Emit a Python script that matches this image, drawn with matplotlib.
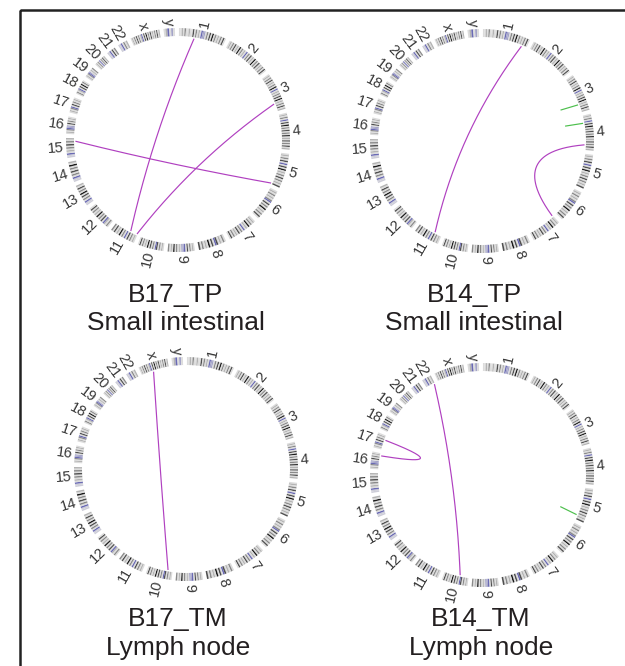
import numpy as np
import matplotlib
matplotlib.use("Agg")
import matplotlib.pyplot as plt
import matplotlib.font_manager as fm
from matplotlib.patches import Wedge, Rectangle

# --- data -------------------------------------------------------------------
CHROMS = ["1", "2", "3", "4", "5", "6", "7", "8", "9", "10", "11", "12",
          "13", "14", "15", "16", "17", "18", "19", "20", "21", "22", "X", "Y"]
CHROM_MB = [249, 243, 198, 191, 181, 171, 159, 146, 141, 136, 135, 134,
            115, 107, 103, 90, 81, 78, 59, 63, 48, 51, 155, 59]

# coarse G-band patterns, p-arm -> q-arm
# 0 gneg, 1 gpos25, 2 gpos50, 3 gpos75, 4 gpos100, c acen, v gvar, s stalk
BAND_PATTERNS = [
    "0010200100302010cvv020304020102030",
    "010203010402010c0203010402030102030",
    "0102030102040c0102030401020301",
    "01020c0304020302040103020301",
    "0102030c0304010203020103",
    "01020102c0302040102030",
    "010204010c02030102030",
    "020103c0304010203",
    "0102030cvv0102040102",
    "010203c0203040102030",
    "0102030c0204010302",
    "0201c0302040102030",
    "ssc020304020301",
    "ssc0203020401",
    "ssc0102030201",
    "0102cvv0302010",
    "0102c0302010",
    "0201c0304020",
    "0102cv0102",
    "01020c020301",
    "ssc0302",
    "ssc0201",
    "0102030201c0304020301020301",
    "01c0v0",
]

SAMPLES = ["B17_TP", "B14_TP", "B17_TM", "B14_TM"]
TISSUES = ["Small intestinal", "Small intestinal", "Lymph node", "Lymph node"]

# translocation links: (chrom A, Mb, chrom B, Mb)
B17_TP_LINKS = [("1", 84, "11", 43), ("3", 156, "11", 3), ("15", 85, "5", 178)]
B14_TP_LINKS = [("1", 220, "11", 41), ("4", 163, "7", 3)]
B17_TM_LINKS = [("X", 66, "10", 27)]
B14_TM_LINKS = [("22", 46, "10", 49), ("17", 55, "16", 76)]

# short intra-chromosomal marks: (chrom, outer Mb, inner Mb)
B17_TP_GREEN = []
B14_TP_GREEN = [("3", 154, 146), ("4", 42, 40)]
B17_TM_GREEN = []
B14_TM_GREEN = [("5", 156, 149)]

# --- style ------------------------------------------------------------------
names = {f.name for f in fm.fontManager.ttflist}
LABEL_FONT = "Liberation Sans Narrow" if "Liberation Sans Narrow" in names else "Liberation Sans"
TITLE_FONT = "Liberation Sans"

BAND_COLORS = {
    "0": "#dcdcdc", "1": "#b4b4b4", "2": "#8a8a8a", "3": "#505050",
    "4": "#1a1a1a", "c": "#6a6ab4", "v": "#a4a4c8", "s": "#cdcdd8",
}
LINK_COLOR = "#b040c0"
GREEN_COLOR = "#4cbf4c"
TEXT_COLOR = "#231f20"

GAP = 2.1
THETA0 = 0.5
SCALE = (360 - len(CHROMS) * GAP) / sum(CHROM_MB)
CUM = np.concatenate([[0], np.cumsum(CHROM_MB)[:-1]])
START = {c: THETA0 + i * GAP + SCALE * CUM[i] for i, c in enumerate(CHROMS)}

R_OUT, R_IN, R_LINK, R_LABEL = 112, 104, 102, 115
BEZIER_R = 26  # control point distance from centre, along the bisector

# panel layout (circle centre, caption centre x, caption baselines)
CENTERS = [(178, 140), (482, 141), (186, 469), (482, 475)]
CAPTION_X = [176, 474, 178, 481]
CAPTION_Y = [(302, 330), (302, 330), (626, 655), (626, 655)]
ALL_LINKS = [B17_TP_LINKS, B14_TP_LINKS, B17_TM_LINKS, B14_TM_LINKS]
ALL_GREEN = [B17_TP_GREEN, B14_TP_GREEN, B17_TM_GREEN, B14_TM_GREEN]


def angle(chrom, mb):
    return START[chrom] + SCALE * mb


def to_xy(cx, cy, theta, r):
    t = np.radians(theta)
    return cx + r * np.sin(t), cy - r * np.cos(t)


def draw_circos(ax, cx, cy, links, greens):
    # ideogram
    for chrom, length, pattern in zip(CHROMS, CHROM_MB, BAND_PATTERNS):
        step = length / len(pattern)
        for k, code in enumerate(pattern):
            t1 = angle(chrom, k * step)
            t2 = angle(chrom, (k + 1) * step)
            ax.add_patch(Wedge((cx, cy), R_OUT, t1 - 90, t2 - 90,
                               width=R_OUT - R_IN, facecolor=BAND_COLORS[code],
                               edgecolor="none"))
        mid = angle(chrom, length / 2)
        x, y = to_xy(cx, cy, mid, R_LABEL)
        if mid < 180:
            rot, ha = 90 - mid, "left"
        else:
            rot, ha = 270 - mid, "right"
        ax.text(x, y, chrom if chrom.isdigit() else chrom.lower(),
                rotation=rot, rotation_mode="anchor", ha=ha, va="center",
                fontsize=10.5, family=LABEL_FONT, color="#383838")

    # links: quadratic bezier, control point pulled towards the centre
    t = np.linspace(0, 1, 200)[:, None]
    for ca, pa, cb, pb in links:
        p0 = np.array(to_xy(0, 0, angle(ca, pa), R_LINK))
        p2 = np.array(to_xy(0, 0, angle(cb, pb), R_LINK))
        bis = p0 + p2
        n = np.hypot(*bis)
        ctrl = bis / n * BEZIER_R if n > 1e-6 else np.zeros(2)
        curve = (1 - t) ** 2 * p0 + 2 * t * (1 - t) * ctrl + t ** 2 * p2
        ax.plot(curve[:, 0] + cx, curve[:, 1] + cy, color=LINK_COLOR, lw=0.85)

    for chrom, p_out, p_in in greens:
        xa, ya = to_xy(cx, cy, angle(chrom, p_out), R_LINK)
        xb, yb = to_xy(cx, cy, angle(chrom, p_in), 85)
        ax.plot([xa, xb], [ya, yb], color=GREEN_COLOR, lw=0.85)


fig = plt.figure(figsize=(6.25, 6.66), dpi=100)
ax = fig.add_axes([0, 0, 1, 1])
ax.set_xlim(0, 625)
ax.set_ylim(666, 0)
ax.axis("off")

ax.add_patch(Rectangle((20, 10), 700, 700, fill=False, lw=1.8, edgecolor="#222222"))

for i in range(4):
    cx, cy = CENTERS[i]
    draw_circos(ax, cx, cy, ALL_LINKS[i], ALL_GREEN[i])
    y1, y2 = CAPTION_Y[i]
    ax.text(CAPTION_X[i], y1, SAMPLES[i], ha="center", va="baseline",
            fontsize=19, family=TITLE_FONT, color=TEXT_COLOR)
    ax.text(CAPTION_X[i], y2, TISSUES[i], ha="center", va="baseline",
            fontsize=19, family=TITLE_FONT, color=TEXT_COLOR)

fig.savefig("out.png", dpi=100, facecolor="white")
